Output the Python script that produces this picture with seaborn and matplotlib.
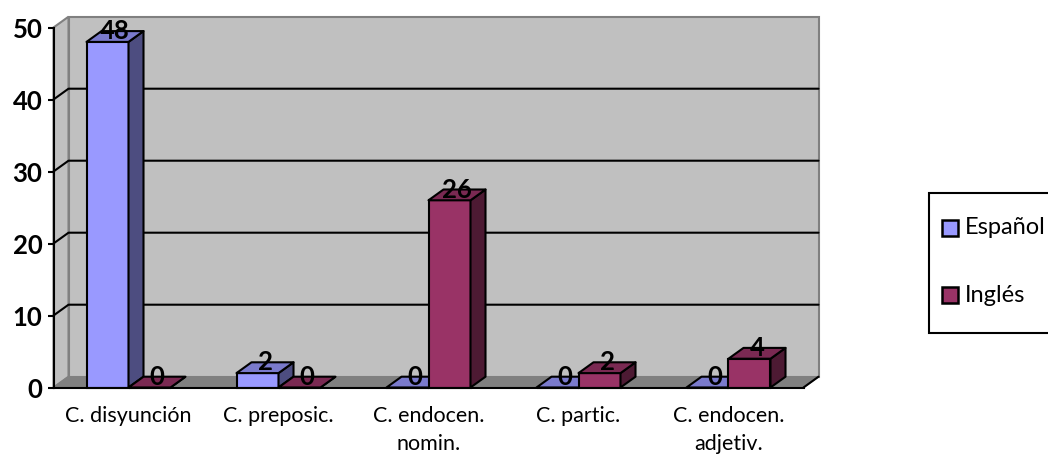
import matplotlib
matplotlib.use("Agg")
import matplotlib.pyplot as plt
from matplotlib.patches import Polygon, Rectangle
import numpy as np
import pandas as pd
import seaborn as sns

# Data
categorias = ["C. disyunción", "C. preposic.", "C. endocen.\nnomin.", "C. partic.", "C. endocen.\nadjetiv."]
espanol = [48, 2, 0, 0, 0]
ingles = [0, 0, 26, 2, 4]
series = ["Español", "Inglés"]
yticks = [0, 10, 20, 30, 40, 50]

# Face colours: front, top, side
colores = {
    "Español": ("#9999FF", "#7A7ACC", "#4D4D80"),
    "Inglés": ("#993366", "#7A2952", "#4D1A33"),
}

df = pd.DataFrame({
    "categoria": categorias * 2,
    "serie": [series[0]] * len(categorias) + [series[1]] * len(categorias),
    "valor": espanol + ingles,
})

sns.set_theme(style="white")
plt.rcParams["font.family"] = ["Lato", "DejaVu Sans"]

W, H = 1048, 457
fig = plt.figure(figsize=(W / 100, H / 100), dpi=100)
ax = fig.add_axes([53.5 / W, (H - 387.5) / H, 750 / W, 360 / H])
ax.set_facecolor("none")

# depth offset of the pseudo-3D box (data units)
DX, DY = 0.1, 1.5
x0, x1 = -0.5, 4.5
ymax = 50

# walls and floor
back = Rectangle((x0 + DX, DY), x1 - x0, ymax, facecolor="#C0C0C0",
                 edgecolor="#808080", lw=1.5, zorder=0.5, clip_on=False)
left = Polygon([(x0, 0), (x0, ymax), (x0 + DX, ymax + DY), (x0 + DX, DY)],
               closed=True, facecolor="#C0C0C0", edgecolor="#808080", lw=1.5,
               zorder=0.5, clip_on=False)
floor = Polygon([(x0, 0), (x1, 0), (x1 + DX, DY), (x0 + DX, DY)], closed=True,
                facecolor="#808080", edgecolor="#808080", lw=1.0, zorder=0.6, clip_on=False)
for p in (back, left, floor):
    ax.add_patch(p)
ax.plot([x1, x1 + DX], [0, DY], color="black", lw=1.5, zorder=0.7, clip_on=False)

for v in yticks[1:-1]:
    ax.plot([x0, x0 + DX, x1 + DX], [v, v + DY, v + DY], color="black",
            lw=1.5, zorder=1, clip_on=False)

sns.barplot(data=df, x="categoria", y="valor", hue="serie", order=categorias,
            hue_order=series, palette={s: colores[s][0] for s in series},
            width=0.56, saturation=1, edgecolor="black", linewidth=1.5,
            legend=False, ax=ax)

for i, (serie, cont) in enumerate(zip(series, ax.containers)):
    _, c_top, c_side = colores[serie]
    z = 3 + i
    for bar, val in zip(cont.patches, cont.datavalues):
        bx, bw, bh = bar.get_x(), bar.get_width(), bar.get_height()
        bar.set_zorder(z)
        bar.set_clip_on(False)
        top = Polygon([(bx, bh), (bx + bw, bh), (bx + bw + DX, bh + DY), (bx + DX, bh + DY)],
                      closed=True, facecolor=c_top, edgecolor="black", lw=1.5,
                      joinstyle="round", zorder=z, clip_on=False)
        side = Polygon([(bx + bw, 0), (bx + bw + DX, DY), (bx + bw + DX, bh + DY), (bx + bw, bh)],
                       closed=True, facecolor=c_side, edgecolor="black", lw=1.5,
                       joinstyle="round", zorder=z, clip_on=False)
        ax.add_patch(side)
        ax.add_patch(top)
        ax.text(bx + bw / 2 + DX / 2, val + DY, f"{val:g}", ha="center", va="center",
                fontsize=18.5, fontweight="bold", color="black", zorder=10)

ax.set_xlim(x0, x1)
ax.set_ylim(0, ymax)
ax.set_yticks(yticks)
ax.set_yticklabels([str(v) for v in yticks], fontsize=18.5, fontweight="bold")
ax.set_xticks(range(len(categorias)))
ax.set_xticklabels(categorias, fontsize=15.5, linespacing=1.55)
ax.set_xticks(np.arange(x0, x1 + 0.01, 1.0), minor=True)
ax.tick_params(axis="x", which="major", length=0, pad=13, colors="black")
ax.tick_params(axis="x", which="minor", length=5, width=1.5, direction="out", color="black")
ax.tick_params(axis="y", length=4, width=1.5, pad=4, colors="black", left=True)
ax.set_xlabel("")
ax.set_ylabel("")
for s in ("top", "right"):
    ax.spines[s].set_visible(False)
for s in ("left", "bottom"):
    ax.spines[s].set_color("black")
    ax.spines[s].set_linewidth(1.5)
    ax.spines[s].set_zorder(8)
ax.grid(False)

# legend box (runs past the right edge of the figure)
def fx(px):
    return px / W

def fy(py):
    return (H - py) / H

fig.add_artist(Rectangle((fx(929), fy(333)), fx(1070) - fx(929), fy(193) - fy(333),
                         transform=fig.transFigure, facecolor="white",
                         edgecolor="black", lw=1.5))
for serie, yc in zip(series, (228, 295)):
    fig.add_artist(Rectangle((fx(942), fy(yc + 8)), fx(16), fy(0) - fy(16),
                             transform=fig.transFigure, facecolor=colores[serie][0],
                             edgecolor="black", lw=1.8))
    fig.text(fx(965), fy(yc), serie, fontsize=17, va="center", ha="left", color="black")

fig.savefig("out.png", dpi=100)
